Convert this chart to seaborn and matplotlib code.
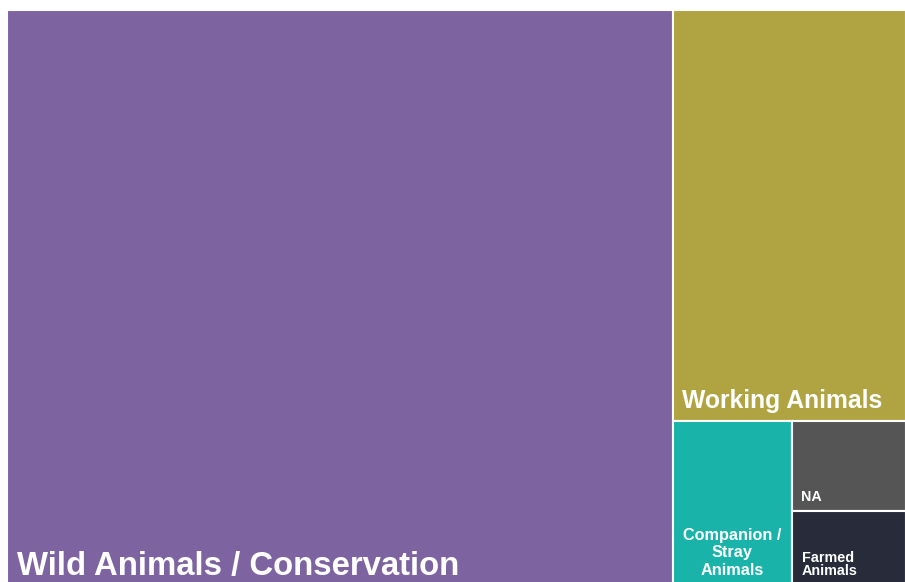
import matplotlib
matplotlib.use("Agg")
import matplotlib.pyplot as plt
from matplotlib.patches import Rectangle
import seaborn as sns

# Number of projects by animal category
categories = ["Wild Animals / Conservation", "Working Animals",
              "Companion / Stray Animals", "NA", "Farmed Animals"]
counts = [445, 111, 23, 12, 10]
labels = ["Wild Animals / Conservation", "Working Animals",
          "Companion /\nStray\nAnimals", "NA", "Farmed\nAnimals"]
colors = ["#7D63A0", "#B0A442", "#1AB3A9", "#555555", "#282C3A"]

# label styling per tile: font size, left pad, baseline gap above tile bottom,
# line gap (px), centred or left aligned
label_style = [
    dict(size=23.7, pad=10, gap=12, line=0, center=False),
    dict(size=17.8, pad=9, gap=13, line=0, center=False),
    dict(size=11.7, pad=0, gap=12, line=17.5, center=True),
    dict(size=10.3, pad=9, gap=10.5, line=0, center=False),
    dict(size=10.4, pad=10, gap=12, line=13.5, center=False),
]


def worst(row, side):
    s = sum(row)
    return max(max(side * side * r / (s * s), s * s / (side * side * r)) for r in row)


def layout_row(row, x, y, w, h):
    s = sum(row)
    rects = []
    if w >= h:
        # column along the left edge
        cw = s / h
        cy = y
        for r in row:
            rh = r / cw
            rects.append((x, cy, cw, rh))
            cy += rh
        return rects, (x + cw, y, w - cw, h)
    # row along the top edge
    rh = s / w
    cx = x
    for r in row:
        rw = r / rh
        rects.append((cx, y, rw, rh))
        cx += rw
    return rects, (x, y + rh, w, h - rh)


def squarify(values, x, y, w, h):
    total = sum(values)
    areas = [v * w * h / total for v in values]
    rects = []
    row = []
    i = 0
    while i < len(areas):
        side = min(w, h)
        a = areas[i]
        if not row or worst(row + [a], side) <= worst(row, side):
            row.append(a)
            i += 1
        else:
            r, (x, y, w, h) = layout_row(row, x, y, w, h)
            rects.extend(r)
            row = []
    if row:
        r, _ = layout_row(row, x, y, w, h)
        rects.extend(r)
    return rects


sns.set_theme(style="white")
plt.rcParams["font.family"] = ["Liberation Sans", "DejaVu Sans"]

fig = plt.figure(figsize=(9.05, 5.82), dpi=100)
ax = fig.add_axes([0, 0, 1, 1])
ax.set_xlim(0, 905)
ax.set_ylim(582, 0)
ax.axis("off")

palette = sns.color_palette(colors)
rects = squarify(counts, 7, 10, 899, 577)

for (rx, ry, rw, rh), col, lab, st in zip(rects, palette, labels, label_style):
    ax.add_patch(Rectangle((rx, ry), rw, rh, facecolor=col,
                           edgecolor="white", linewidth=1.5))
    lines = lab.split("\n")
    n = len(lines)
    for k, line in enumerate(lines):
        dy = st["gap"] + (n - 1 - k) * st["line"]
        if st["center"]:
            anchor, dx, ha = (rx + rw / 2, ry + rh), 0, "center"
        else:
            anchor, dx, ha = (rx, ry + rh), st["pad"], "left"
        ax.annotate(line, anchor, xytext=(dx, dy), textcoords="offset pixels",
                    ha=ha, va="baseline", color="white", fontsize=st["size"],
                    fontweight="bold", annotation_clip=False)

fig.savefig("out.png", dpi=100)
